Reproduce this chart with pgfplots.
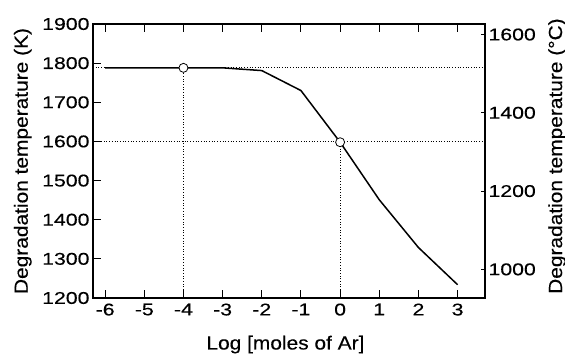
\documentclass[border=0pt]{standalone}
\usepackage{fontspec}
\setmainfont{Liberation Sans}
\newfontfamily\tickf{Liberation Sans}[FakeStretch=1.25, FakeBold=0.3]
\newfontfamily\labf{Liberation Sans}[FakeStretch=1.1, FakeBold=0.3]
\usepackage{pgfplots}
\pgfplotsset{compat=1.18}
\begin{document}
\begin{tikzpicture}
\useasboundingbox (-93pt,-60pt) rectangle (472pt,298pt);
\begin{axis}[
  at={(0,0)}, anchor=south west,
  scale only axis, width=392pt, height=274pt,
  xmin=-6.31, xmax=3.70, ymin=1200, ymax=1900,
  xtick={-6,-5,-4,-3,-2,-1,0,1,2,3},
  ytick={1200,1300,1400,1500,1600,1700,1800,1900},
  tick align=inside, ytick pos=left, xtick pos=both,
  xticklabel pos=left,
  major tick length=8pt,
  axis line style={line width=1.3pt},
  tick style={line width=1.1pt, black},
  /pgf/number format/1000 sep={},
  /pgf/number format/assume math mode=true,
  tick label style={font=\tickf\fontsize{17}{20}\selectfont},
  xticklabel style={yshift=-2pt},
  xlabel={Log [moles of Ar]},
  ylabel={Degradation temperature (K)},
  label style={font=\labf\fontsize{19}{22}\selectfont},
  xlabel style={at={(axis description cs:0.491,-0.17)}, anchor=center},
  ylabel style={at={(axis description cs:-0.179,0.5)}, anchor=center},
  clip=false,
]
\addplot[black, line width=0.7pt, dotted] coordinates {(-6.31,1788) (3.70,1788)};
\addplot[black, line width=0.7pt, dotted] coordinates {(-6.31,1600) (3.70,1600)};
\addplot[black, line width=0.7pt, dotted] coordinates {(-4,1200) (-4,1788)};
\addplot[black, line width=0.7pt, dotted] coordinates {(0,1200) (0,1600)};
\addplot[black, line width=1.5pt, mark=none] coordinates {
  (-6,1788) (-5,1788) (-4,1788) (-3,1788) (-2,1781) (-1,1730)
  (0,1598) (1,1451) (2,1329) (3,1234)
};
\addplot[only marks, mark=*, mark size=4.5pt, mark options={fill=white, draw=black, line width=0.8pt}] coordinates {(-4,1788) (0,1598)};
\end{axis}
\begin{axis}[
  at={(0,0)}, anchor=south west,
  scale only axis, width=392pt, height=274pt,
  xmin=-6.31, xmax=3.70, ymin=926.85, ymax=1626.85,
  axis x line=none, axis y line*=right,
  ytick={1000,1200,1400,1600},
  tick align=inside, major tick length=4pt,
  axis line style={line width=1.3pt, -},
  tick style={line width=1.1pt, black},
  /pgf/number format/1000 sep={},
  /pgf/number format/assume math mode=true,
  tick label style={font=\tickf\fontsize{17}{20}\selectfont},
  ylabel={Degradation temperature (°C)},
  label style={font=\labf\fontsize{19}{22}\selectfont},
  ylabel style={at={(axis description cs:1.184,0.518)}, anchor=center},
]
\end{axis}
\end{tikzpicture}
\end{document}
